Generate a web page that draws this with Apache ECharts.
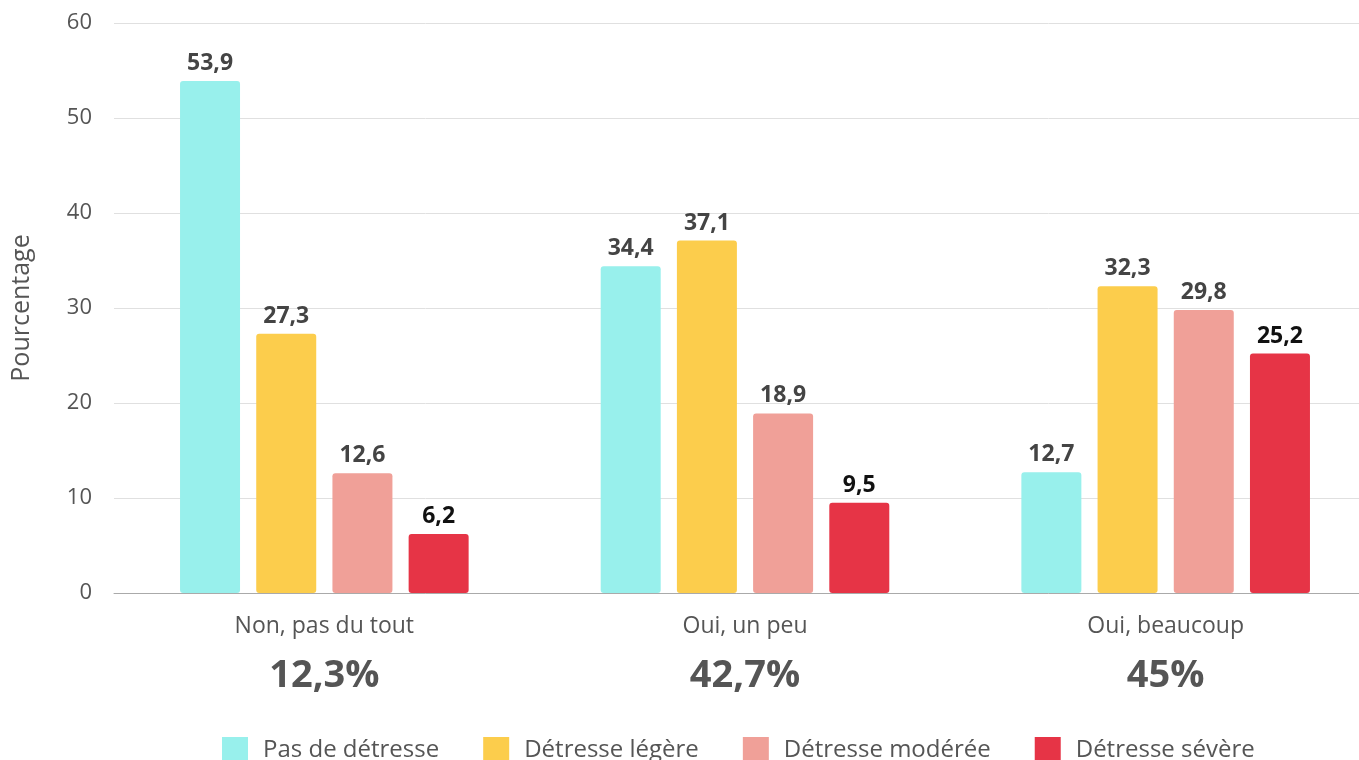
<!DOCTYPE html>
<html lang="fr">
  <head>
    <meta charset="UTF-8" />
    <title>Détresse</title>
    <style>
      * {
        padding: 0;
        margin: 0;
      }
    </style>
    <script src="https://cdn.jsdelivr.net/npm/echarts@6/dist/echarts.min.js"></script>
  </head>
  <body>
    <div id="main" style="width: 1359px; height: 760px;"></div>
    <script type="text/javascript">
      var categories = ['Non, pas du tout', 'Oui, un peu', 'Oui, beaucoup'];
      var shares = ['12,3%', '42,7%', '45%'];
      var seriesNames = ['Pas de détresse', 'Détresse légère', 'Détresse modérée', 'Détresse sévère'];
      var pasDeDetresse = [53.9, 34.4, 12.7];
      var legere = [27.3, 37.1, 32.3];
      var moderee = [12.6, 18.9, 29.8];
      var severe = [6.2, 9.5, 25.2];
      var colors = ['#98f0ec', '#fccd4c', '#f0a098', '#e63446'];
      var labelColors = ['#444', '#444', '#444', '#111'];

      var font = '"Open Sans", sans-serif';
      var values = [pasDeDetresse, legere, moderee, severe];

      var myChart = echarts.init(document.getElementById('main'));

      var option = {
        textStyle: { fontFamily: font },
        legend: {
          top: 732,
          left: 217,
          itemWidth: 26,
          itemHeight: 26,
          itemGap: 44,
          icon: 'rect',
          textStyle: { fontSize: 24, color: '#555', fontFamily: font, padding: [0, 0, 0, 10] },
          data: seriesNames
        },
        grid: { left: 114, right: -17, top: 23, bottom: 167, outerBoundsMode: 'none', containLabel: false },
        xAxis: {
          type: 'category',
          data: categories,
          axisTick: { show: false },
          axisLine: { lineStyle: { color: '#aaa' } },
          axisLabel: {
            interval: 0,
            margin: 13,
            formatter: function (v, i) {
              return '{a|' + v + '}\n{b|' + shares[i] + '}';
            },
            rich: {
              a: { fontSize: 23, color: '#555', lineHeight: 40, fontFamily: font },
              b: { fontSize: 38, fontWeight: 'bold', color: '#555', lineHeight: 60, fontFamily: font }
            }
          }
        },
        yAxis: {
          type: 'value',
          min: 0,
          max: 60,
          interval: 10,
          name: 'Pourcentage',
          nameLocation: 'middle',
          nameGap: 80,
          nameTextStyle: { fontSize: 25, color: '#555', fontFamily: font },
          axisLabel: { fontSize: 22, color: '#555', margin: 22 },
          splitLine: { lineStyle: { color: '#e0e0e0' } }
        },
        series: seriesNames.map(function (name, k) {
          return {
            name: name,
            type: 'bar',
            barWidth: 60,
            barGap: '27%',
            data: values[k],
            itemStyle: { color: colors[k], borderRadius: 3 },
            label: {
              show: true,
              position: 'top',
              distance: 6,
              fontSize: 23,
              fontWeight: 'bold',
              color: labelColors[k],
              fontFamily: font,
              formatter: function (p) {
                return String(p.value).replace('.', ',');
              }
            }
          };
        })
      };

      myChart.setOption(option, true);
    </script>
  </body>
</html>
